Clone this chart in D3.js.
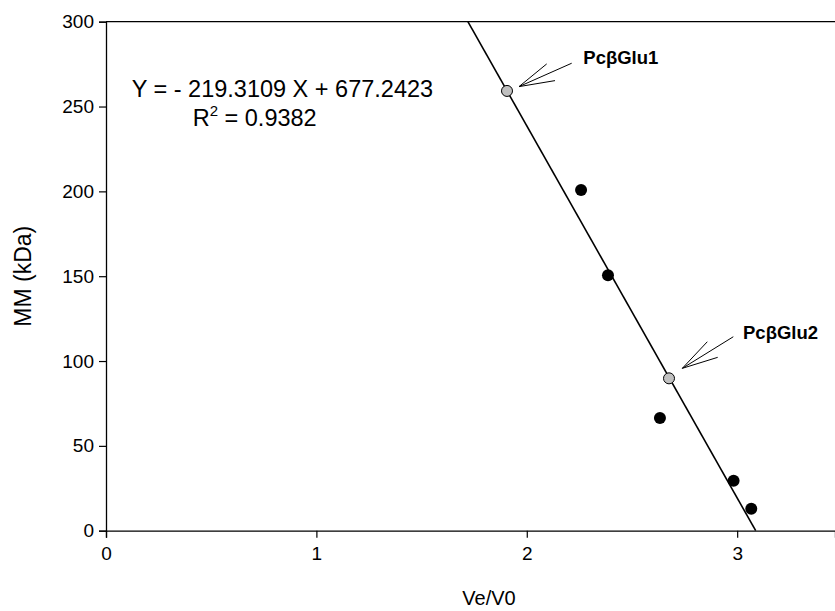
<!DOCTYPE html>
<html>
<head>
<meta charset="utf-8">
<script src="https://cdn.jsdelivr.net/npm/d3@7"></script>
<style>
  html, body { margin: 0; padding: 0; background: #fff; }
  svg { display: block; font-family: "Liberation Sans", Arial, Helvetica, sans-serif; }
</style>
</head>
<body>
<svg id="chart" width="835" height="611"></svg>
<script>
// ---- data ----
const xTicks = [0, 1, 2, 3];
const yTicks = [0, 50, 100, 150, 200, 250, 300];
const xDomain = [0, 3.465];
const yDomain = [0, 300];

const standardVeV0 = [2.258, 2.386, 2.633, 2.983, 3.067];
const standardMM   = [200.8, 150.6, 66.4, 29.5, 13.0];

const unknownNames = ["PcβGlu1", "PcβGlu2"];
const unknownVeV0  = [1.906, 2.676];
const unknownMM    = [259.2, 89.8];

const slope = -219.3109;
const intercept = 677.2423;
const rSquared = 0.9382;

const xTitle = "Ve/V0";
const yTitle = "MM (kDa)";

// ---- layout ----
const svg = d3.select("#chart");
const plotLeft = 106, plotRight = 835, plotTop = 21.7, plotBottom = 530.7;
const x = d3.scaleLinear().domain(xDomain).range([plotLeft, plotRight]);
const y = d3.scaleLinear().domain(yDomain).range([plotBottom, plotTop]);

// regression line (clipped to the y domain)
const xAtTop = (yDomain[1] - intercept) / slope;
const xAtZero = (yDomain[0] - intercept) / slope;
svg.append("line")
  .attr("x1", x(xAtTop)).attr("y1", y(slope * xAtTop + intercept))
  .attr("x2", x(xAtZero)).attr("y2", y(slope * xAtZero + intercept))
  .attr("stroke", "#000").attr("stroke-width", 1.6);

// axes
const xAxis = svg.append("g").attr("transform", `translate(0,${plotBottom})`)
  .call(d3.axisBottom(x).tickValues(xTicks).tickFormat(d3.format("d")).tickSizeOuter(0).tickSize(7).tickPadding(9));
const yAxis = svg.append("g").attr("transform", `translate(${plotLeft},0)`)
  .call(d3.axisLeft(y).tickValues(yTicks).tickFormat(d3.format("d")).tickSizeOuter(0).tickSize(7).tickPadding(5));
[xAxis, yAxis].forEach(g => {
  g.select(".domain").attr("stroke", "#000").attr("stroke-width", 1.3);
  g.selectAll(".tick line").attr("stroke", "#000").attr("stroke-width", 1.2);
  g.selectAll(".tick text").attr("fill", "#000").style("font-size", "19px")
    .style("font-family", '"Liberation Sans", Arial, sans-serif');
});
// top frame line
svg.append("line").attr("x1", plotLeft).attr("x2", plotRight).attr("y1", plotTop).attr("y2", plotTop)
  .attr("stroke", "#000").attr("stroke-width", 1.3);

// axis titles
svg.append("text").attr("x", 489).attr("y", 605).attr("text-anchor", "middle")
  .style("font-size", "20px").text(xTitle);
svg.append("text").attr("transform", `translate(31,${(plotTop + plotBottom) / 2}) rotate(-90)`)
  .attr("text-anchor", "middle").style("font-size", "23px").text(yTitle);

// standard points
svg.append("g").selectAll("circle").data(d3.range(standardVeV0.length)).join("circle")
  .attr("cx", i => x(standardVeV0[i])).attr("cy", i => y(standardMM[i]))
  .attr("r", 6).attr("fill", "#000");

// unknown points
svg.append("g").selectAll("circle").data(d3.range(unknownNames.length)).join("circle")
  .attr("cx", i => x(unknownVeV0[i])).attr("cy", i => y(unknownMM[i]))
  .attr("r", 5.5).attr("fill", "#c0c0c0").attr("stroke", "#000").attr("stroke-width", 1);

// annotations (pixel offsets from each point)
const annot = [
  { tip: [12, -4.3], tail: [64.7, -27.7], b1: [39.7, -27], b2: [48, -10.3], label: [76.3, -27] },
  { tip: [13.3, -10], tail: [64.3, -41.6], b1: [38.3, -36.6], b2: [48.7, -21], label: [74, -39] }
];
unknownNames.forEach((name, i) => {
  const px = x(unknownVeV0[i]), py = y(unknownMM[i]);
  const a = annot[i];
  const g = svg.append("g").attr("stroke", "#000").attr("stroke-width", 1);
  [a.tail, a.b1, a.b2].forEach(e => {
    g.append("line").attr("x1", px + a.tip[0]).attr("y1", py + a.tip[1])
      .attr("x2", px + e[0]).attr("y2", py + e[1]);
  });
  svg.append("text").attr("x", px + a.label[0]).attr("y", py + a.label[1])
    .style("font-size", "18.5px").style("font-weight", "bold").text(name);
});

// equation
svg.append("text").attr("x", 131.7).attr("y", 96.7).style("font-size", "23.5px")
  .text(`Y = - ${Math.abs(slope).toFixed(4)} X + ${intercept.toFixed(4)}`);
const r2 = svg.append("text").attr("x", 192.7).attr("y", 126).style("font-size", "23.5px");
r2.append("tspan").text("R");
r2.append("tspan").attr("dy", -10).style("font-size", "15px").text("2");
r2.append("tspan").attr("dy", 10).text(` = ${rSquared.toFixed(4)}`);
</script>
</body>
</html>
